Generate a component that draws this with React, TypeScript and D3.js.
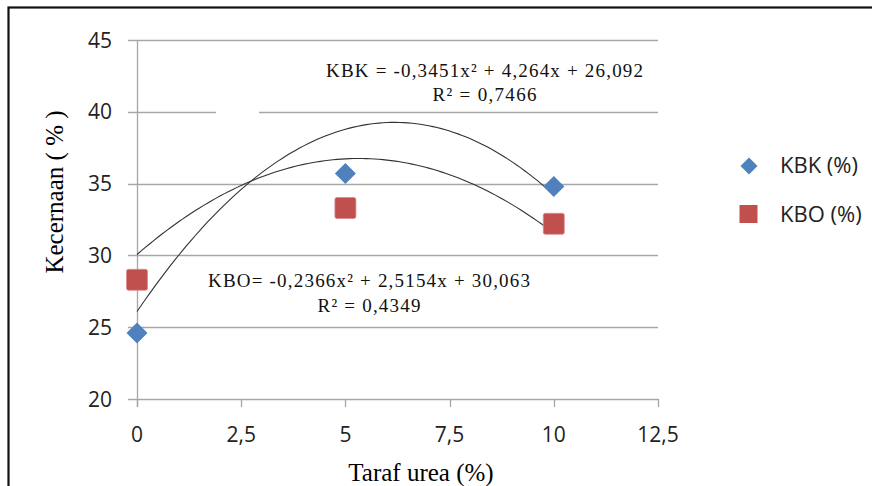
import React from "react";
import * as d3 from "d3";

const xLevels = [0, 5, 10];
const kbkValues = [24.6, 35.7, 34.8];
const kboValues = [28.3, 33.3, 32.2];
const xTicks = [0, 2.5, 5, 7.5, 10, 12.5];
const yTicks = [20, 25, 30, 35, 40, 45];
const kbkCoef = [-0.3451, 4.264, 26.092];
const kboCoef = [-0.2366, 2.5154, 30.063];
const kbkEq = "KBK = -0,3451x² + 4,264x + 26,092";
const kbkR2 = "R² = 0,7466";
const kboEq = "KBO= -0,2366x² + 2,5154x + 30,063";
const kboR2 = "R² = 0,4349";
const seriesNames = ["KBK (%)", "KBO (%)"];

const W = 872;
const H = 486;
const BLUE = "#4F81BD";
const RED = "#C0504D";
const GRID = "#A6A6A6";
const SANS = "'Open Sans', sans-serif";
const SERIF = "'Liberation Serif', 'Times New Roman', serif";

function diamondPath(r: number) {
  const p = d3.path();
  p.moveTo(0, -r);
  p.lineTo(r, 0);
  p.lineTo(0, r);
  p.lineTo(-r, 0);
  p.closePath();
  return p.toString();
}

export default function App() {
  const x = d3.scaleLinear().domain([0, 12.5]).range([137, 658]);
  const y = d3.scaleLinear().domain([20, 45]).range([399, 40]);
  const fmt = (v: number) => String(v).replace(".", ",");

  const curve = (c: number[]) =>
    d3
      .line<number>()
      .x((v) => x(v))
      .y((v) => y(c[0] * v * v + c[1] * v + c[2]))(d3.range(0, 10.0001, 0.1));

  const diamond = diamondPath(10.5);
  const legendDiamond = diamondPath(8.5);

  return (
    <svg
      width={W}
      height={H}
      style={{ position: "absolute", left: 0, top: 0, background: "#fff" }}
    >
      <rect x={0} y={0} width={W} height={H} fill="#fff" />
      <rect x={8.5} y={7.5} width={W + 20} height={H + 20} fill="none" stroke="#111" strokeWidth={2.2} />

      {/* gridlines */}
      {yTicks.map((t) => (
        <line key={"g" + t} x1={128} x2={x(12.5)} y1={Math.round(y(t)) + 0.5} y2={Math.round(y(t)) + 0.5} stroke={GRID} strokeWidth={1.3} />
      ))}
      {/* gap in the 40 gridline */}
      <rect x={216} y={y(40) - 3} width={43} height={6} fill="#fff" />
      {/* y axis */}
      <line x1={x(0) + 0.5} x2={x(0) + 0.5} y1={y(45)} y2={y(20) + 8} stroke={GRID} strokeWidth={1.3} />
      {xTicks.map((t) => (
        <line key={"xt" + t} x1={Math.round(x(t)) + 0.5} x2={Math.round(x(t)) + 0.5} y1={y(20)} y2={y(20) + 8} stroke={GRID} strokeWidth={1.3} />
      ))}

      {/* tick labels */}
      {yTicks.map((t) => (
        <text key={"yl" + t} x={112} y={y(t)} dy="0.36em" textAnchor="end" fontFamily={SANS} fontSize={21} fill="#222">
          {t}
        </text>
      ))}
      {xTicks.map((t) => (
        <text key={"xl" + t} x={x(t)} y={442} textAnchor="middle" fontFamily={SANS} fontSize={21} fill="#222">
          {fmt(t)}
        </text>
      ))}

      {/* axis titles */}
      <text x={421} y={481} textAnchor="middle" fontFamily={SERIF} fontSize={25} fill="#000">
        Taraf urea (%)
      </text>
      <text transform="translate(63,192) rotate(-90)" textAnchor="middle" fontFamily={SERIF} fontSize={25} fill="#000">
        Kecernaan ( % )
      </text>

      {/* trendlines */}
      <path d={curve(kbkCoef) || ""} fill="none" stroke="#333" strokeWidth={1.1} />
      <path d={curve(kboCoef) || ""} fill="none" stroke="#333" strokeWidth={1.1} />

      {/* points */}
      {xLevels.map((v, i) => (
        <rect key={"o" + i} x={x(v) - 10.5} y={y(kboValues[i]) - 10.5} width={21} height={21} rx={2} fill={RED} stroke="#D98C8A" strokeWidth={0.8} />
      ))}
      {xLevels.map((v, i) => (
        <path key={"k" + i} d={diamond} transform={`translate(${x(v)},${y(kbkValues[i])})`} fill={BLUE} />
      ))}

      {/* equations */}
      <text x={484.5} y={77} textAnchor="middle" fontFamily={SERIF} fontSize={19} fill="#111" textLength={317} lengthAdjust="spacing">
        {kbkEq}
      </text>
      <text x={484.5} y={101} textAnchor="middle" fontFamily={SERIF} fontSize={19} fill="#111" textLength={104} lengthAdjust="spacing">
        {kbkR2}
      </text>
      <text x={369} y={287} textAnchor="middle" fontFamily={SERIF} fontSize={19} fill="#111" textLength={322} lengthAdjust="spacing">
        {kboEq}
      </text>
      <text x={369} y={312} textAnchor="middle" fontFamily={SERIF} fontSize={19} fill="#111" textLength={103} lengthAdjust="spacing">
        {kboR2}
      </text>

      {/* legend */}
      <path d={legendDiamond} transform="translate(749,166)" fill={BLUE} />
      <rect x={739.5} y={205} width={18} height={18} fill={RED} />
      <text x={780} y={173} fontFamily={SANS} fontSize={22} fill="#222">
        {seriesNames[0]}
      </text>
      <text x={780} y={222} fontFamily={SANS} fontSize={22} fill="#222">
        {seriesNames[1]}
      </text>
    </svg>
  );
}
